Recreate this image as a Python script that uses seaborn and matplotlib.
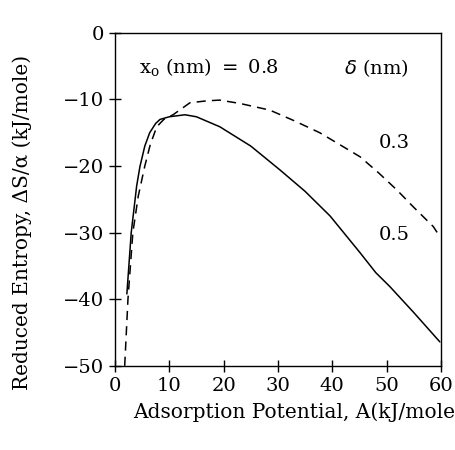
import pandas as pd
import seaborn as sns
import matplotlib.pyplot as plt

# curve values
a_05 = [2.2, 3.0, 4.0, 4.6, 5.5, 6.4, 7.5, 8.3, 10.0, 12.9, 15.0, 19.3, 25.0, 30.4, 35.0, 39.6, 45.1, 48.0, 50.6, 55.0, 59.8]
s_05 = [-39.2, -30.0, -23.0, -20.1, -17.0, -15.0, -13.6, -13.0, -12.6, -12.3, -12.6, -14.1, -17.0, -20.6, -23.8, -27.5, -33.0, -36.0, -38.1, -42.0, -46.4]
a_03 = [1.8, 2.1, 2.4, 3.3, 4.3, 5.5, 6.5, 7.7, 9.0, 10.7, 13.8, 17.0, 19.3, 23.0, 28.5, 33.0, 37.7, 41.0, 45.1, 48.5, 51.9, 55.0, 58.6, 59.8]
s_03 = [-50.0, -45.0, -40.0, -30.0, -24.5, -20.0, -16.8, -14.1, -13.0, -12.3, -10.5, -10.2, -10.1, -10.6, -11.6, -13.2, -15.0, -16.6, -18.6, -21.0, -23.6, -26.2, -29.1, -30.6]

df = pd.concat([
    pd.DataFrame({'A': a_05, 'S': s_05, 'delta': '0.5'}),
    pd.DataFrame({'A': a_03, 'S': s_03, 'delta': '0.3'}),
])

sns.set_style('white')
plt.rcParams['font.family'] = ['DejaVu Serif']
plt.rcParams['text.color'] = 'black'
plt.rcParams['axes.labelcolor'] = 'black'

fig = plt.figure(figsize=(4.56, 4.5), dpi=100)
ax = fig.add_axes([0.252, 0.187, 0.715, 0.74])

sns.lineplot(data=df, x='A', y='S', style='delta', style_order=['0.5', '0.3'],
             dashes={'0.5': '', '0.3': (6, 4)}, color='black', lw=1.1,
             estimator=None, sort=False, legend=False, ax=ax)

ax.set_xlim(0, 60)
ax.set_ylim(-50, 0)
ax.set_xticks(range(0, 61, 10))
ax.set_yticks(range(-50, 1, 10))
ax.set_yticklabels(['\u221250', '\u221240', '\u221230', '\u221220', '\u221210', '0'])
ax.tick_params(direction='inout', length=8, width=1, labelsize=14, colors='black',
               top=False, right=False, bottom=True, left=True, pad=4)
for sp in ax.spines.values():
    sp.set_color('black')
    sp.set_linewidth(1.0)

ax.set_xlabel('Adsorption Potential, A(kJ/mole', fontsize=14.5, ha='right')
ax.xaxis.set_label_coords(1.045, -0.11)
ax.set_ylabel('Reduced Entropy, \u0394S/\u03b1 (kJ/mole)', fontsize=14.5, va='center')
ax.yaxis.set_label_coords(-0.285, 0.43)

ax.text(4.5, -5.3, r'x$_\mathregular{o}$ (nm) $=$ 0.8', fontsize=14, va='center')
ax.text(42.2, -5.3, r'$\delta$ (nm)', fontsize=14, va='center')
ax.text(48.5, -16.6, '0.3', fontsize=14, va='center')
ax.text(48.5, -30.3, '0.5', fontsize=14, va='center')

fig.savefig('out.png', dpi=100)
